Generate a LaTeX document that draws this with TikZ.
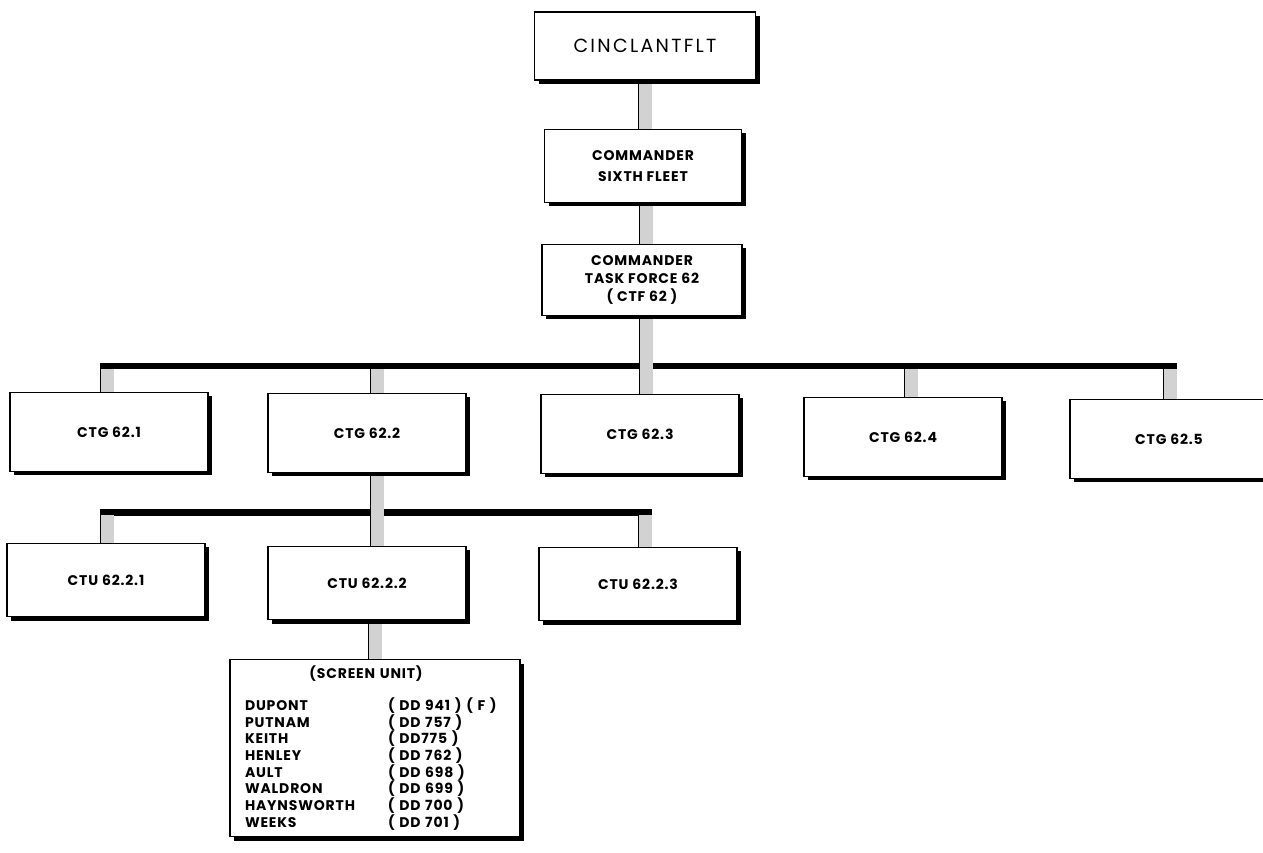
\documentclass[tikz,border=0pt]{standalone}
\usepackage{fontspec}
\setmainfont{Poppins}[LetterSpace=6]
\usetikzlibrary{shadows,backgrounds}

\tikzset{
  box/.style={draw, line width=1.5pt, fill=white, align=center,
    font=\bfseries\fontsize{14}{20}\selectfont,
    drop shadow={shadow xshift=4pt, shadow yshift=-4pt, fill=black, opacity=1}},
  bar/.style={draw=black, line width=0.8pt, double=gray!35, double distance=13pt},
  bus/.style={line width=6.5pt}
}

\newcommand{\ship}[2]{\makebox[143pt][l]{#1}#2}

\begin{document}
\begin{tikzpicture}[x=1pt, y=1pt]
\useasboundingbox (0,0) rectangle (1263,852);

% chain of command at the top
\node[box, minimum width=221, minimum height=68,
  font=\fontsize{19}{22}\selectfont\addfontfeature{LetterSpace=12}] (top) at (645,806) {CINCLANTFLT};
\node[box, minimum width=197, minimum height=73, font=\bfseries\fontsize{14}{21}\selectfont]
  (cdr6) at (643,686) {COMMANDER\\SIXTH FLEET};
\node[box, minimum width=200, minimum height=71, font=\bfseries\fontsize{14}{18}\selectfont]
  (ctf) at (642,572) {COMMANDER\\TASK FORCE 62\\( CTF 62 )};

% task groups
\foreach \n/\x/\y in {1/109/420, 2/367/419, 3/640/418, 4/903/415, 5/1169/413} {
    \node[box, minimum width=198, minimum height=79] (g\n) at (\x,\y) {CTG 62.\n};
}

% task units under CTG 62.2
\foreach \n/\x/\y in {1/106/272, 2/367/269, 3/638/268} {
    \node[box, minimum width=198, minimum height=73] (u\n) at (\x,\y) {CTU 62.2.\n};
}

% screen unit list
\node[box, text width=260pt, inner xsep=15pt, minimum height=177, align=left,
  font=\bfseries\fontsize{14}{16.7}\selectfont,
  execute at begin node={\lineskiplimit=-20pt\relax}]
  (scr) at (375,104) {%
    \makebox[242pt][c]{(SCREEN UNIT)}\\[15pt]
    \ship{DUPONT}{( DD 941 ) ( F )}\\
    \ship{PUTNAM}{( DD 757 )}\\
    \ship{KEITH}{( DD775 )}\\
    \ship{HENLEY}{( DD 762 )}\\
    \ship{AULT}{( DD 698 )}\\
    \ship{WALDRON}{( DD 699 )}\\
    \ship{HAYNSWORTH}{( DD 700 )}\\
    \ship{WEEKS}{( DD 701 )}};

\begin{pgfonlayer}{background}
% horizontal buses
\coordinate (b1w) at (99.7,486);
\coordinate (b1e) at (1177.3,486);
\coordinate (b2w) at (99.7,339.5);
\coordinate (b2e) at (652.3,339.5);
\draw[bus] (b1w) -- (b1e);
\draw[bus] (b2w) -- (b2e);

% shaded links
\draw[bar] (top.south) -- (top.south |- cdr6.north);
\draw[bar] ([xshift=3pt]cdr6.south) -- ([xshift=3pt]cdr6.south |- ctf.north);
\draw[bar] ([xshift=4pt]ctf.south) -- ([xshift=4pt]ctf.south |- g3.north);

\foreach \n/\x in {1/107, 2/377, 4/911, 5/1170} {
    \coordinate (t\n) at (\x,483);
    \draw[bar] (t\n) -- (t\n |- g\n.north);
}

\coordinate (s2) at (377,339.5);
\draw[bar] (s2 |- g2.south) -- (s2 |- u2.north);
\foreach \n/\x in {1/107, 3/645} {
    \coordinate (s\n) at (\x,336.5);
    \draw[bar] (s\n) -- (s\n |- u\n.north);
}
\draw[bar] (scr.north |- u2.south) -- (scr.north);
\end{pgfonlayer}

\end{tikzpicture}
\end{document}
